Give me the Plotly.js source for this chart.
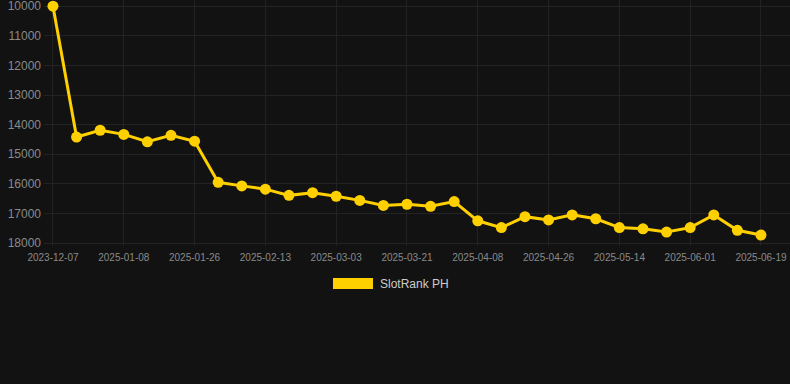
<!DOCTYPE html>
<html>
<head>
<meta charset="utf-8">
<script src="https://cdn.plot.ly/plotly-3.0.1.min.js"></script>
<style>
html,body{margin:0;padding:0;background:#121212;}
#chart{width:790px;height:384px;}
</style>
</head>
<body>
<div id="chart"></div>
<script>
const dates = [
  "2023-12-07","2024-12-27","2025-01-02","2025-01-08","2025-01-14","2025-01-20",
  "2025-01-26","2025-02-01","2025-02-07","2025-02-13","2025-02-19","2025-02-25",
  "2025-03-03","2025-03-09","2025-03-15","2025-03-21","2025-03-27","2025-04-02",
  "2025-04-08","2025-04-14","2025-04-20","2025-04-26","2025-05-02","2025-05-08",
  "2025-05-14","2025-05-20","2025-05-26","2025-06-01","2025-06-07","2025-06-13",
  "2025-06-19"
];
const ranks = [
  10000, 14420, 14190, 14330, 14580, 14360,
  14560, 15950, 16070, 16180, 16390, 16300,
  16420, 16560, 16730, 16690, 16760, 16600,
  17250, 17480, 17110, 17220, 17050, 17180,
  17480, 17520, 17630, 17480, 17050, 17570,
  17730
];
const tickLabels = ["2023-12-07","2025-01-08","2025-01-26","2025-02-13","2025-03-03","2025-03-21",
  "2025-04-08","2025-04-26","2025-05-14","2025-06-01","2025-06-19"];
const yTicks = [10000,11000,12000,13000,14000,15000,16000,17000,18000];
const yTickText = ["10000","11000","12000","13000","14000","15000","16000","17000","18000"];
const seriesName = "SlotRank PH";
const gold = "#FFD000";

const trace = {
  x: dates, y: ranks, type: "scatter", mode: "lines+markers",
  name: seriesName, showlegend: false,
  line: {color: gold, width: 3},
  marker: {color: gold, size: 11},
  hoverinfo: "x+y"
};

const layout = {
  width: 790, height: 384,
  paper_bgcolor: "#121212", plot_bgcolor: "#121212",
  margin: {l: 44, r: 0, t: 0, b: 138},
  font: {family: "Liberation Sans, Arial, sans-serif", color: "#8a8a8a"},
  xaxis: {
    type: "category",
    range: [-0.38, 31.23],
    tickmode: "array", tickvals: tickLabels, ticktext: tickLabels,
    tickangle: 0,
    tickfont: {size: 10, color: "#8a8a8a"},
    showgrid: true, gridcolor: "#222222", gridwidth: 1,
    zeroline: false, showline: false, ticks: "",
    ticklabelstandoff: 4
  },
  yaxis: {
    range: [18101, 9790],
    tickmode: "array", tickvals: yTicks, ticktext: yTickText,
    ticklabeloverflow: "allow",
    tickfont: {size: 12, color: "#8a8a8a"},
    showgrid: true, gridcolor: "#232323", gridwidth: 1,
    zeroline: false, showline: false, ticks: "",
    ticklabelstandoff: 2
  },
  shapes: [{
    type: "rect", xref: "paper", yref: "paper",
    x0: 0.3874, x1: 0.441, y0: -0.130, y1: -0.175,
    fillcolor: gold, line: {width: 0}
  }],
  annotations: [{
    text: seriesName, xref: "paper", yref: "paper",
    x: 0.448, y: -0.1545, xanchor: "left", yanchor: "middle",
    showarrow: false, font: {size: 12, color: "#cccccc"}
  }]
};

Plotly.newPlot("chart", [trace], layout, {displayModeBar: false, staticPlot: true});
</script>
</body>
</html>
